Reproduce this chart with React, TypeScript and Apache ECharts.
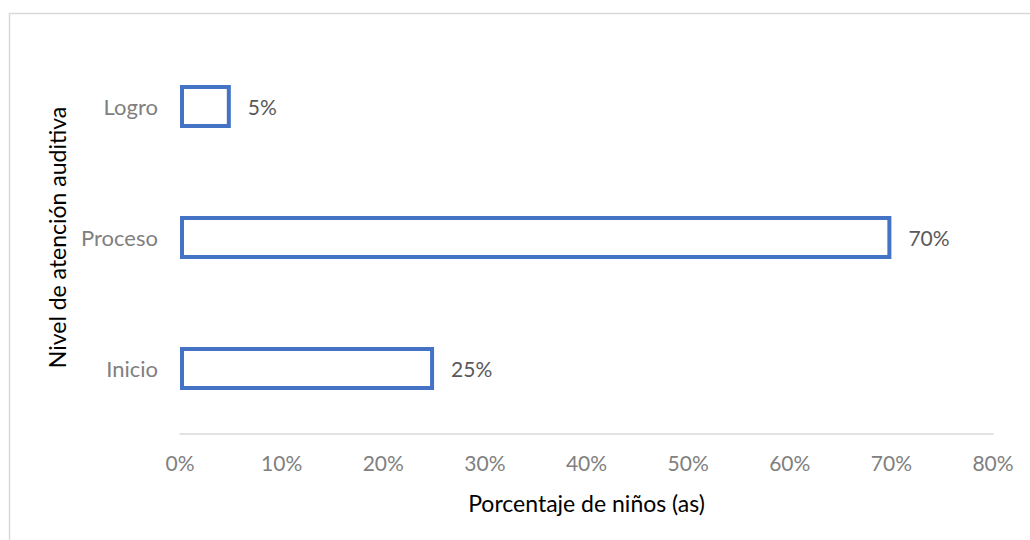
import React, { useEffect, useRef } from "react";
import * as echarts from "echarts";

const categories = ["Inicio", "Proceso", "Logro"];
const values = [25, 70, 5];
const xTicks = { min: 0, max: 80, interval: 10 };
const xAxisTitle = "Porcentaje de niños (as)";
const yAxisTitle = "Nivel de atención auditiva";

const FONT = "Lato";

export default function App() {
  const ref = useRef<HTMLDivElement>(null);
  useEffect(() => {
    if (!ref.current) return;
    const chart = echarts.init(ref.current, undefined, { renderer: "svg" });
    chart.setOption({
      animation: false,
      backgroundColor: "#ffffff",
      textStyle: { fontFamily: FONT },
      graphic: [
        {
          type: "rect",
          shape: { x: 9.5, y: 13.5, width: 1030, height: 540 },
          style: { fill: "none", stroke: "#d9d9d9", lineWidth: 1.5 },
          silent: true,
        },
      ],
      grid: { left: 180, right: 37, top: 41, bottom: 106, containLabel: false },
      xAxis: {
        type: "value",
        min: xTicks.min,
        max: xTicks.max,
        interval: xTicks.interval,
        name: xAxisTitle,
        nameLocation: "middle",
        nameGap: 57,
        nameTextStyle: { color: "#000000", fontSize: 23, fontFamily: FONT },
        axisLine: { show: true, lineStyle: { color: "#d9d9d9", width: 1.5 } },
        axisTick: { show: false },
        splitLine: { show: false },
        axisLabel: {
          formatter: "{value}%",
          color: "#808080",
          fontSize: 21,
          fontFamily: FONT,
          margin: 18,
        },
      },
      yAxis: {
        type: "category",
        data: categories,
        name: yAxisTitle,
        nameLocation: "middle",
        nameGap: 112,
        nameTextStyle: { color: "#000000", fontSize: 23, fontFamily: FONT },
        axisLine: { show: false },
        axisTick: { show: false },
        splitLine: { show: false },
        axisLabel: { color: "#808080", fontSize: 22, fontFamily: FONT, margin: 22 },
      },
      series: [
        {
          type: "bar",
          data: values,
          barWidth: 43,
          itemStyle: { color: "#ffffff", borderColor: "#4472C4", borderWidth: 4 },
          label: {
            show: true,
            position: "right",
            distance: 17,
            formatter: "{c}%",
            color: "#595959",
            fontSize: 21,
            fontFamily: FONT,
          },
        },
      ],
    });
    return () => chart.dispose();
  }, []);
  return (
    <div
      ref={ref}
      style={{ position: "absolute", left: 0, top: 0, width: 1030, height: 540 }}
    />
  );
}
